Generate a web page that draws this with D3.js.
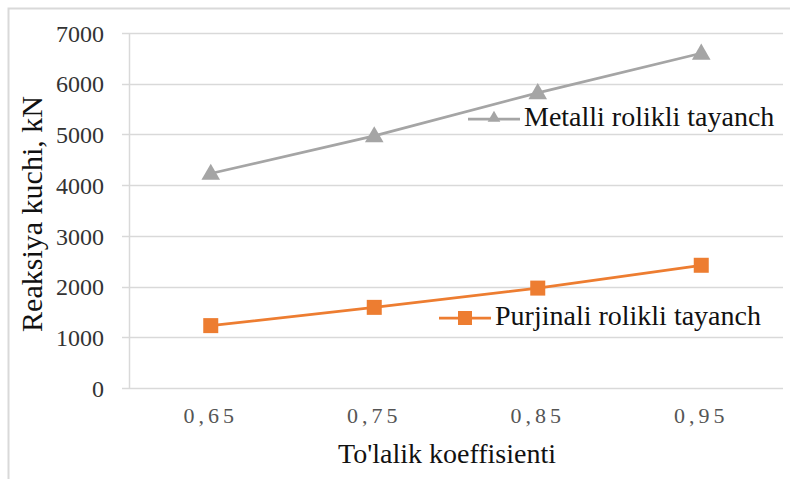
<!DOCTYPE html>
<html>
<head>
<meta charset="utf-8">
<script src="https://cdn.jsdelivr.net/npm/d3@7"></script>
<style>
  html, body { margin: 0; padding: 0; background: #fff; }
  svg { display: block; }
  svg text { font-family: "Liberation Serif", "Times New Roman", "DejaVu Serif", serif; }
</style>
</head>
<body>
<div id="chart"></div>
<script>
// Fill coefficient categories and reaction forces (kN) per roller support type
const categories = ["0,65", "0,75", "0,85", "0,95"];
const metalValues = [4230, 4970, 5820, 6600];
const springValues = [1230, 1590, 1970, 2420];
const yTicks = [0, 1000, 2000, 3000, 4000, 5000, 6000, 7000];
const seriesNames = ["Metalli rolikli tayanch", "Purjinali rolikli tayanch"];
const axisTitles = { x: "To'lalik koeffisienti", y: "Reaksiya kuchi, kN" };

const W = 790, H = 479;
const plot = { left: 129, right: 783, top: 33, bottom: 388 };

const svg = d3.select("#chart").append("svg")
  .attr("width", W).attr("height", H);

// Outer chart frame (left and top edges visible)
svg.append("path")
  .attr("d", `M8.5,${H} L8.5,8.5 L${W},8.5`)
  .attr("fill", "none").attr("stroke", "#d9d9d9").attr("stroke-width", 2);

const x = d3.scaleBand().domain(categories).range([plot.left, plot.right]).padding(0);
const y = d3.scaleLinear().domain([0, 7000]).range([plot.bottom, plot.top]);

// Horizontal gridlines with a short outside tick on the left
svg.append("g").selectAll("line").data(yTicks).join("line")
  .attr("x1", plot.left - 7).attr("x2", plot.right)
  .attr("y1", d => Math.round(y(d)) + 0.5).attr("y2", d => Math.round(y(d)) + 0.5)
  .attr("stroke", "#d9d9d9").attr("stroke-width", 1.5);

// Vertical value axis line
svg.append("line")
  .attr("x1", plot.left + 0.5).attr("x2", plot.left + 0.5)
  .attr("y1", y(7000)).attr("y2", y(0))
  .attr("stroke", "#d9d9d9").attr("stroke-width", 1.5);

// Y axis labels
const yAxis = svg.append("g")
  .attr("transform", `translate(${plot.left},0)`)
  .call(d3.axisLeft(y).tickValues(yTicks).tickSize(8).tickPadding(17).tickFormat(d3.format("d")));
yAxis.select(".domain").remove();
yAxis.selectAll(".tick line").remove();
yAxis.attr("font-family", null);
yAxis.selectAll("text")
  .attr("font-size", 24).attr("fill", "#333")
  .attr("dy", "0.34em");

// X axis labels
const xAxis = svg.append("g")
  .attr("transform", `translate(0,${plot.bottom})`)
  .call(d3.axisBottom(x).tickSize(0).tickPadding(0));
xAxis.select(".domain").remove();
xAxis.attr("font-family", null);
xAxis.selectAll("text")
  .attr("font-size", 22).attr("fill", "#555")
  .attr("letter-spacing", "4px")
  .attr("dy", 0).attr("y", 35);

// Axis titles
svg.append("text")
  .attr("x", 447).attr("y", 463)
  .attr("text-anchor", "middle")
  .attr("font-size", 28).attr("fill", "#111")
  .text(axisTitles.x);

svg.append("text")
  .attr("transform", "translate(42,214) rotate(-90)")
  .attr("text-anchor", "middle")
  .attr("font-size", 30).attr("fill", "#111")
  .text(axisTitles.y);

const cx = d => x(d) + x.bandwidth() / 2;
const line = d3.line().x(d => cx(d.c)).y(d => y(d.v));
const metal = categories.map((c, i) => ({ c, v: metalValues[i] }));
const spring = categories.map((c, i) => ({ c, v: springValues[i] }));

const grey = "#a5a5a5", orange = "#ed7d31";
const tri = d3.symbol().type(d3.symbolTriangle).size(150);

// Metal roller support series
svg.append("path").datum(metal)
  .attr("d", line).attr("fill", "none")
  .attr("stroke", grey).attr("stroke-width", 2.75);
svg.append("g").selectAll("path").data(metal).join("path")
  .attr("d", tri)
  .attr("transform", d => `translate(${cx(d.c)},${y(d.v) + 1})`)
  .attr("fill", grey);

// Spring roller support series
svg.append("path").datum(spring)
  .attr("d", line).attr("fill", "none")
  .attr("stroke", orange).attr("stroke-width", 2.75);
svg.append("g").selectAll("rect").data(spring).join("rect")
  .attr("x", d => cx(d.c) - 7.5).attr("y", d => y(d.v) - 7.5)
  .attr("width", 15).attr("height", 15)
  .attr("fill", orange);

// Legend entries placed inside the plot
function legendEntry(lx, ly, color, marker, label) {
  const g = svg.append("g");
  g.append("line")
    .attr("x1", lx).attr("x2", lx + 52).attr("y1", ly).attr("y2", ly)
    .attr("stroke", color).attr("stroke-width", 2.75);
  if (marker === "triangle") {
    g.append("path").attr("d", d3.symbol().type(d3.symbolTriangle).size(70))
      .attr("transform", `translate(${lx + 26},${ly - 1})`).attr("fill", color);
  } else {
    g.append("rect").attr("x", lx + 19).attr("y", ly - 7)
      .attr("width", 14).attr("height", 14).attr("fill", color);
  }
  g.append("text")
    .attr("x", lx + 56).attr("y", ly + 7)
    .attr("font-size", 28).attr("fill", "#111")
    .text(label);
}
legendEntry(468, 119, grey, "triangle", seriesNames[0]);
legendEntry(439, 318, orange, "square", seriesNames[1]);
</script>
</body>
</html>
